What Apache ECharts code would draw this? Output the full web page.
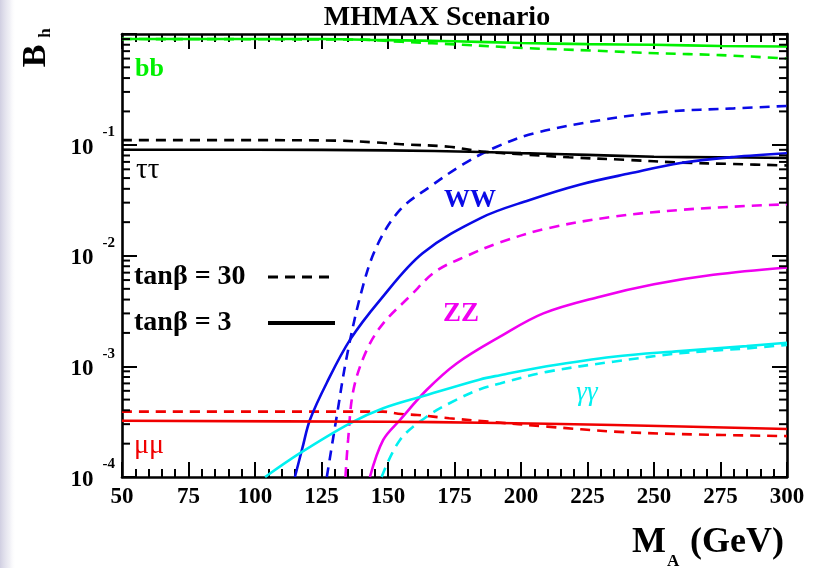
<!DOCTYPE html>
<html>
<head>
<meta charset="utf-8">
<script src="https://cdn.jsdelivr.net/npm/echarts@6/dist/echarts.min.js"></script>
<style>
  html, body { margin: 0; padding: 0; background: #ffffff; }
  #chart { width: 819px; height: 568px; }
</style>
</head>
<body>
<div id="chart"></div>
<script>
// Light Higgs branching ratios B_h versus M_A, MHMAX scenario.
// Each curve: [M_A in GeV, branching ratio]. "Tan3" = tanβ = 3 (solid), "Tan30" = tanβ = 30 (dashed).
const bbTan3 = [[50,0.90],[125,0.90],[150,0.88],[175,0.86],[200,0.83],[225,0.81],[250,0.80],[275,0.78],[300,0.77]];
const bbTan30 = [[50,0.90],[140,0.89],[155,0.85],[178,0.80],[202,0.745],[226,0.71],[251,0.67],[275,0.645],[300,0.60]];

const tautauTan3 = [[50,0.090],[100,0.090],[150,0.089],[185,0.086],[200,0.084],[225,0.081],[250,0.078],[275,0.077],[300,0.076]];
const tautauTan30 = [[50,0.110],[100,0.110],[130,0.109],[145,0.105],[155,0.101],[173,0.096],[185,0.087],[200,0.082],[218,0.077],[240,0.073],[260,0.069],[280,0.067],[300,0.065]];

const wwTan3 = [[115,1.0e-4],[117.8,1.82e-4],[120.7,3.3e-4],[127,7.1e-4],[135.7,1.73e-3],[147,3.96e-3],[163,1.05e-2],[185,0.0219],[203,0.0316],[222,0.0436],[241,0.0552],[260,0.0684],[280,0.0776],[300,0.0838]];
const wwTan30 = [[127,1.0e-4],[130.7,3.5e-4],[134.5,1.22e-3],[140,4.7e-3],[145.7,0.012],[154.5,0.0258],[165.8,0.0418],[178,0.066],[190,0.094],[205,0.127],[230,0.167],[255,0.199],[280,0.213],[300,0.224]];

const zzTan3 = [[143.2,1.0e-4],[148.2,2.16e-4],[154.5,3.27e-4],[164.5,6.1e-4],[175.8,1.06e-3],[192.1,1.85e-3],[208.4,3.0e-3],[229.7,4.25e-3],[250,5.5e-3],[272.3,6.7e-3],[300,7.8e-3]];
const zzTan30 = [[134,1.0e-4],[135,2.16e-4],[137,6.1e-4],[142,1.4e-3],[148.2,2.44e-3],[158.3,4.3e-3],[168,7.2e-3],[180,0.0100],[192,0.0131],[210,0.0176],[234.7,0.0224],[259.8,0.0258],[284.8,0.028],[300,0.029]];

const gagaTan3 = [[103.8,1.0e-4],[116.9,1.64e-4],[135.7,3.05e-4],[148.2,4.17e-4],[163.3,5.38e-4],[184.6,7.6e-4],[192.1,8.3e-4],[209.7,1.0e-3],[234.7,1.22e-3],[259.8,1.37e-3],[284.8,1.52e-3],[300,1.63e-3]];
const gagaTan30 = [[147.6,1.0e-4],[154.5,2.16e-4],[164.5,3.5e-4],[175.8,5.0e-4],[184.6,6.2e-4],[192.1,7.0e-4],[209.7,8.9e-4],[234.7,1.1e-3],[259.8,1.31e-3],[284.8,1.45e-3],[300,1.56e-3]];

const mumuTan3 = [[50,3.22e-4],[150,3.15e-4],[185,3.09e-4],[235,2.95e-4],[300,2.71e-4]];
const mumuTan30 = [[50,3.89e-4],[148,3.89e-4],[155,3.7e-4],[161,3.63e-4],[173,3.39e-4],[188,3.16e-4],[210,2.85e-4],[235,2.57e-4],[260,2.44e-4],[300,2.34e-4]];

// Axis ranges and tick layout
const massRange = [50, 300];
const massStep = 25;
const brRange = [1e-4, 1];
const logDecades = [-4, -3, -2, -1];
const logMantissas = [2, 3, 4, 5, 6, 7, 8, 9];

const SERIF = '"Liberation Serif", "DejaVu Serif", serif';
const COL = { green: '#00f000', black: '#000000', blue: '#0a0ae6', magenta: '#f000f0', cyan: '#00f0f0', red: '#f00000' };

function curve(name, data, color, dashed) {
  return {
    name: name,
    type: 'line',
    data: data,
    showSymbol: false,
    symbol: 'none',
    smooth: 0.35,
    clip: true,
    z: dashed ? 3 : 4,
    lineStyle: { color: color, width: 2.6, type: dashed ? [10, 7] : 'solid', cap: 'butt' },
    silent: true
  };
}

// minor tick values k·10^n inside each decade of the log axis
const minorTickVals = [];
logDecades.forEach(function (d) {
  logMantissas.forEach(function (m) { minorTickVals.push([massRange[0], m * Math.pow(10, d)]); });
});

const chart = echarts.init(document.getElementById('chart'), null, { renderer: 'canvas' });

const axisLineStyle = { color: '#000', width: 2.6 };

const option = {
  backgroundColor: '#ffffff',
  animation: false,
  grid: { left: 122, right: 32, top: 34, bottom: 91, containLabel: false },
  xAxis: [
    {
      type: 'value', min: massRange[0], max: massRange[1], interval: massStep,
      position: 'bottom',
      axisLine: { show: true, onZero: false, lineStyle: axisLineStyle },
      axisTick: { show: true, inside: true, length: 15, lineStyle: { color: '#000', width: 2 } },
      minorTick: { show: true, splitNumber: 5, length: 8, lineStyle: { color: '#000', width: 2 } },
      splitLine: { show: false },
      axisLabel: { margin: 9, color: '#000', fontFamily: SERIF, fontWeight: 'bold', fontSize: 23 }
    },
    {
      type: 'value', min: massRange[0], max: massRange[1], interval: massStep,
      position: 'top',
      axisLine: { show: true, onZero: false, lineStyle: axisLineStyle },
      axisTick: { show: true, inside: true, length: 15, lineStyle: { color: '#000', width: 2 } },
      minorTick: { show: true, splitNumber: 5, length: 8, lineStyle: { color: '#000', width: 2 } },
      splitLine: { show: false },
      axisLabel: { show: false }
    }
  ],
  yAxis: [
    {
      type: 'log', logBase: 10, min: brRange[0], max: brRange[1],
      position: 'left',
      axisLine: { show: true, onZero: false, lineStyle: axisLineStyle },
      axisTick: { show: true, inside: true, length: 15, lineStyle: { color: '#000', width: 2 } },
      splitLine: { show: false },
      axisLabel: {
        margin: 7,
        color: '#000',
        padding: [6, 0, 0, 0],
        formatter: function (v) {
          const e = Math.round(Math.log10(v));
          return e === 0 ? '' : '{b|10}{s|' + e + '}';
        },
        rich: {
          b: { fontFamily: SERIF, fontWeight: 'bold', fontSize: 23, color: '#000', lineHeight: 46, verticalAlign: 'middle' },
          s: { fontFamily: SERIF, fontWeight: 'bold', fontSize: 15, color: '#000', lineHeight: 15, verticalAlign: 'top', padding: [0, 0, 0, 9] }
        }
      }
    },
    {
      type: 'log', logBase: 10, min: brRange[0], max: brRange[1],
      position: 'right',
      axisLine: { show: true, onZero: false, lineStyle: axisLineStyle },
      axisTick: { show: true, inside: true, length: 15, lineStyle: { color: '#000', width: 2 } },
      splitLine: { show: false },
      axisLabel: { show: false }
    }
  ],
  series: [
    curve('bb tanβ=3', bbTan3, COL.green, false),
    curve('bb tanβ=30', bbTan30, COL.green, true),
    curve('ττ tanβ=3', tautauTan3, COL.black, false),
    curve('ττ tanβ=30', tautauTan30, COL.black, true),
    curve('WW tanβ=3', wwTan3, COL.blue, false),
    curve('WW tanβ=30', wwTan30, COL.blue, true),
    curve('ZZ tanβ=3', zzTan3, COL.magenta, false),
    curve('ZZ tanβ=30', zzTan30, COL.magenta, true),
    curve('γγ tanβ=3', gagaTan3, COL.cyan, false),
    curve('γγ tanβ=30', gagaTan30, COL.cyan, true),
    curve('μμ tanβ=3', mumuTan3, COL.red, false),
    curve('μμ tanβ=30', mumuTan30, COL.red, true),
    {
      // logarithmic minor ticks on the left and right frame
      type: 'custom',
      silent: true,
      z: 10,
      data: minorTickVals,
      renderItem: function (params, api) {
        const v = api.value(1);
        const pl = api.coord([massRange[0], v]);
        const pr = api.coord([massRange[1], v]);
        return {
          type: 'group',
          children: [
            { type: 'line', shape: { x1: pl[0], y1: pl[1], x2: pl[0] + 8, y2: pl[1] }, style: { stroke: '#000', lineWidth: 2 } },
            { type: 'line', shape: { x1: pr[0], y1: pr[1], x2: pr[0] - 8, y2: pr[1] }, style: { stroke: '#000', lineWidth: 2 } }
          ]
        };
      }
    }
  ],
  graphic: [
    {
      type: 'rect', left: 0, top: 0, z: -1,
      shape: { width: 16, height: 568 },
      style: {
        fill: new echarts.graphic.LinearGradient(0, 0, 1, 0, [
          { offset: 0, color: 'rgba(200,198,220,0.85)' },
          { offset: 0.6, color: 'rgba(225,224,236,0.5)' },
          { offset: 1, color: 'rgba(255,255,255,0)' }
        ])
      }
    },
    { type: 'text', x: 437, y: 18, style: { text: 'MHMAX Scenario', font: 'bold 28px ' + SERIF, fill: '#000', align: 'center', verticalAlign: 'middle' } },
    // y-axis title B_h, rotated
    { type: 'text', x: 36, y: 56, rotation: Math.PI / 2, style: { text: 'B', font: 'bold 34px ' + SERIF, fill: '#000', align: 'center', verticalAlign: 'middle' } },
    { type: 'text', x: 46, y: 33, rotation: Math.PI / 2, style: { text: 'h', font: 'bold 17px ' + SERIF, fill: '#000', align: 'center', verticalAlign: 'middle' } },
    // x-axis title M_A (GeV)
    { type: 'text', x: 632, y: 543, style: { text: 'M', font: 'bold 36px ' + SERIF, fill: '#000', align: 'left', verticalAlign: 'middle' } },
    { type: 'text', x: 667, y: 562, style: { text: 'A', font: 'bold 17px ' + SERIF, fill: '#000', align: 'left', verticalAlign: 'middle' } },
    { type: 'text', x: 690, y: 543, style: { text: '(GeV)', font: 'bold 36px ' + SERIF, fill: '#000', align: 'left', verticalAlign: 'middle' } },
    // decay channel labels
    { type: 'text', x: 135, y: 69, style: { text: 'bb', font: 'bold 26px ' + SERIF, fill: COL.green, align: 'left', verticalAlign: 'middle' } },
    { type: 'text', x: 136, y: 170, style: { text: 'ττ', font: '29px ' + SERIF, fill: '#000', align: 'left', verticalAlign: 'middle' } },
    { type: 'text', x: 470, y: 200, style: { text: 'WW', font: 'bold 26px ' + SERIF, fill: COL.blue, align: 'center', verticalAlign: 'middle' } },
    { type: 'text', x: 461, y: 314, style: { text: 'ZZ', font: 'bold 27px ' + SERIF, fill: COL.magenta, align: 'center', verticalAlign: 'middle' } },
    { type: 'text', x: 587, y: 393, style: { text: 'γγ', font: 'italic 27px ' + SERIF, fill: COL.cyan, align: 'center', verticalAlign: 'middle' } },
    { type: 'text', x: 134, y: 446, style: { text: 'μμ', font: '28px ' + SERIF, fill: COL.red, align: 'left', verticalAlign: 'middle' } },
    // tanβ legend
    { type: 'text', x: 134, y: 277, style: { text: 'tanβ = 30', font: 'bold 28px ' + SERIF, fill: '#000', align: 'left', verticalAlign: 'middle' } },
    { type: 'line', shape: { x1: 268, y1: 277, x2: 330, y2: 277 }, style: { stroke: '#000', lineWidth: 3, lineDash: [10, 7] } },
    { type: 'text', x: 134, y: 323, style: { text: 'tanβ = 3', font: 'bold 28px ' + SERIF, fill: '#000', align: 'left', verticalAlign: 'middle' } },
    { type: 'line', shape: { x1: 268, y1: 323, x2: 335, y2: 323 }, style: { stroke: '#000', lineWidth: 4 } }
  ]
};

chart.setOption(option);
</script>
</body>
</html>
